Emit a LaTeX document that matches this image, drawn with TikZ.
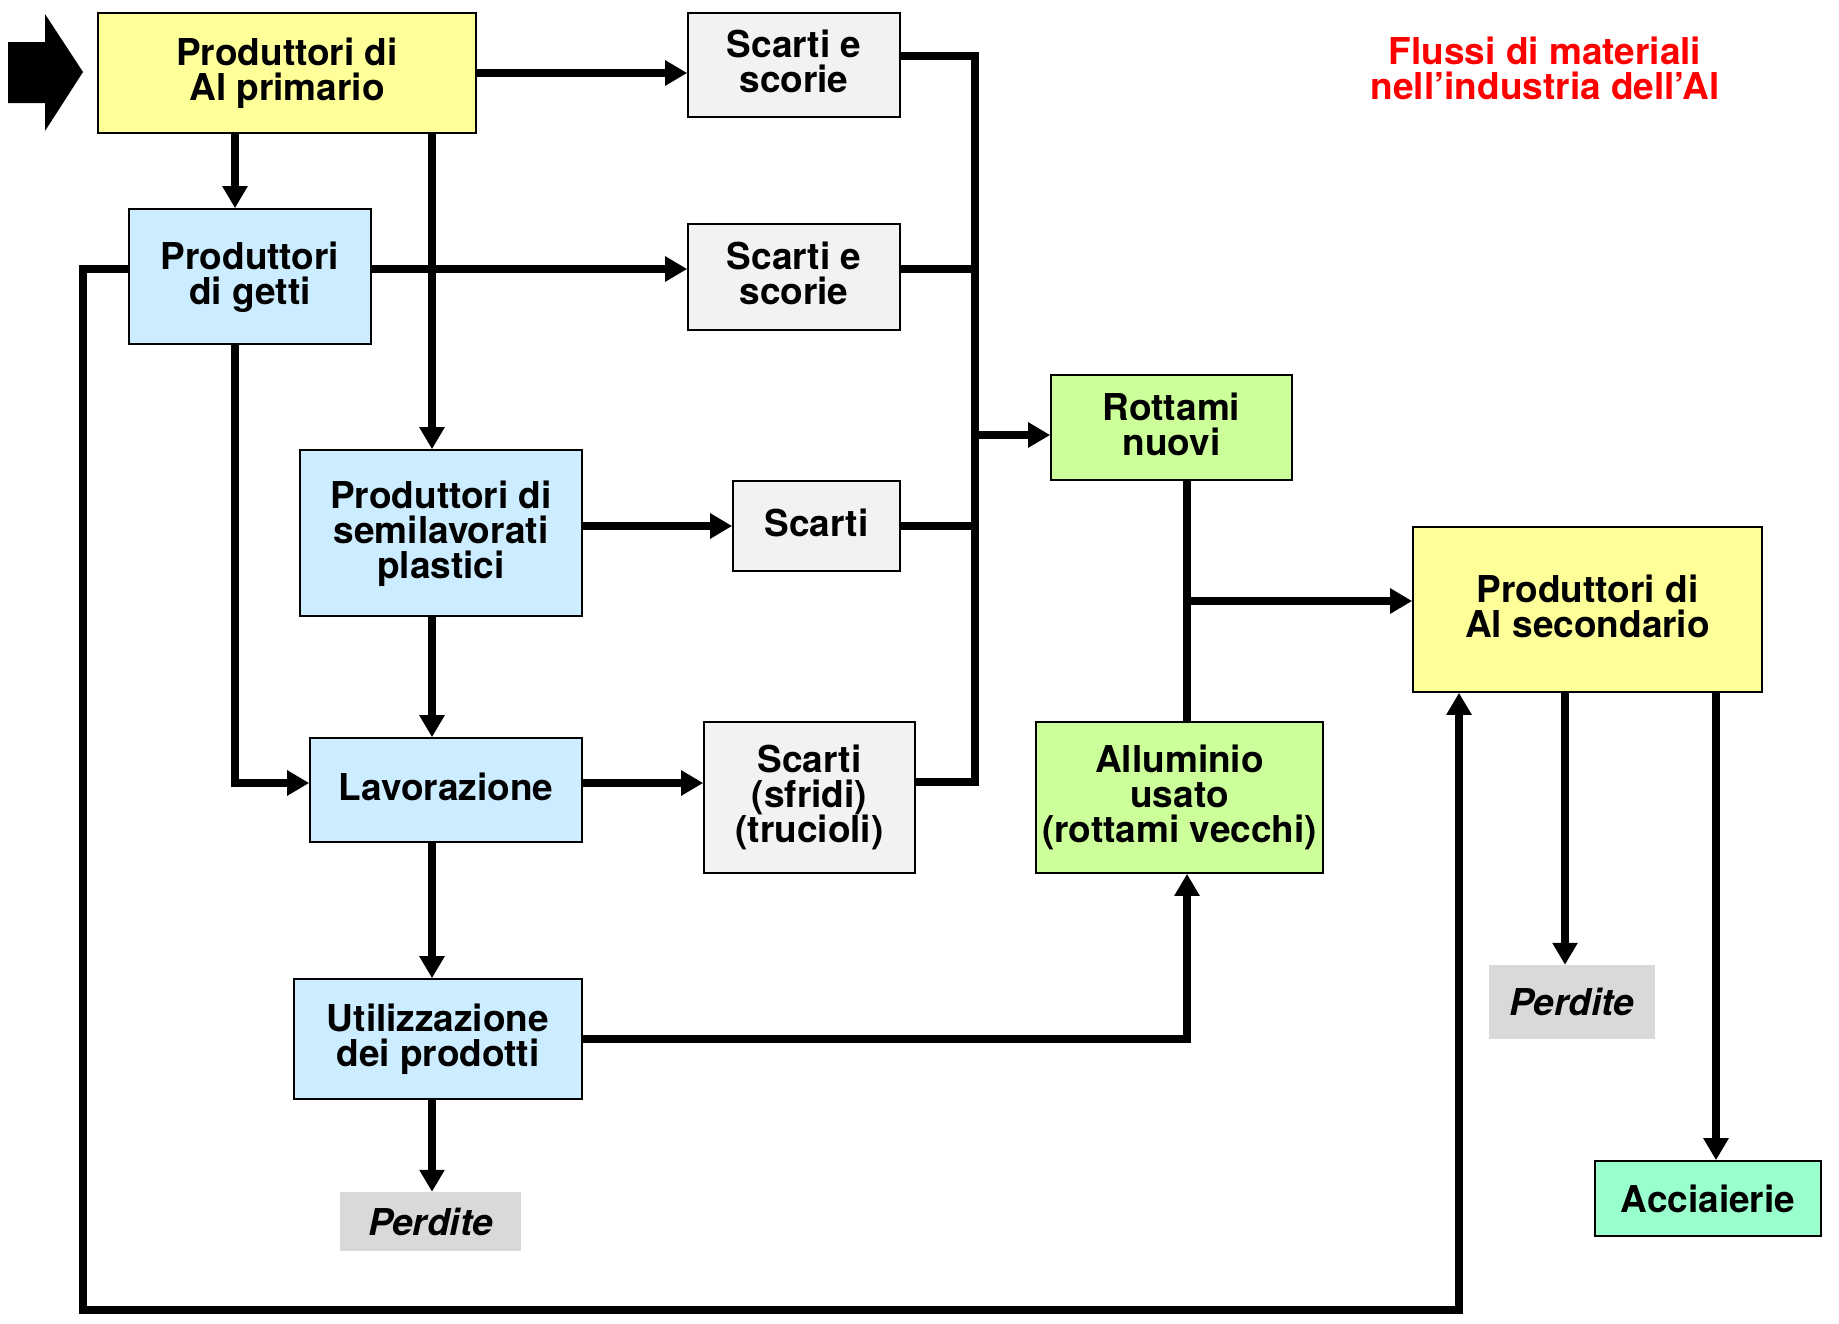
\documentclass[tikz,border=0pt]{standalone}
\usepackage{fontspec}
\setmainfont{TeX Gyre Heros}
\usetikzlibrary{arrows.meta}
\definecolor{cYellow}{HTML}{FFFF99}
\definecolor{cBlue}{HTML}{CCECFF}
\definecolor{cGrey}{HTML}{F2F2F2}
\definecolor{cGreen}{HTML}{CCFF99}
\definecolor{cAqua}{HTML}{99FFCC}
\definecolor{cLoss}{HTML}{D9D9D9}
\definecolor{cTitle}{HTML}{FF0000}
\begin{document}
\begin{tikzpicture}[x=1pt,y=-1pt,
  lbl/.style={font=\fontsize{37}{35}\selectfont\bfseries, align=center, text=black},
  box/.style={lbl, draw=black, line width=1.6pt, inner sep=2pt, text depth=7.5pt},
  sz/.style 2 args={minimum width=#1, minimum height=#2},
  loss/.style={font=\fontsize{37}{35}\selectfont\bfseries\itshape, fill=cLoss, inner sep=0pt},
  wire/.style={line width=7.5pt, line join=miter},
  flow/.style={wire, -{Triangle[width=24pt,length=22pt]}}]
\useasboundingbox (0,0) rectangle (1839,1323);

% input arrow
\fill[black] (8,42) -- (45,42) -- (45,14) -- (83,72) -- (45,131) -- (45,103) -- (8,103) -- cycle;

% title
\node[lbl, text=cTitle] (title) at (1545,68) {Flussi di materiali\\nell’industria dell’Al};

% process boxes
\node[box, fill=cYellow, sz={378}{120}] (primario) at (287,73) {Produttori di\\Al primario};
\node[box, fill=cGrey, sz={212}{104}] (scarti1) at (794,65) {Scarti e\\scorie};
\node[box, fill=cBlue, sz={242}{135}] (getti) at (250,276.5) {Produttori\\di getti};
\node[box, fill=cGrey, sz={212}{106}] (scarti2) at (794,277) {Scarti e\\scorie};
\node[box, fill=cGreen, sz={241}{105}] (rottami) at (1171.5,427.5) {Rottami\\nuovi};
\node[box, fill=cBlue, sz={282}{166}] (semilav) at (441,533) {Produttori di\\semilavorati\\plastici};
\node[box, fill=cGrey, sz={167}{90}] (scarti3) at (816.5,526) {Scarti};
\node[box, fill=cBlue, sz={272}{104}] (lavoraz) at (446,790) {Lavorazione};
\node[box, fill=cGrey, sz={211}{151}] (scarti4) at (809.5,797.5) {Scarti\\(sfridi)\\(trucioli)};
\node[box, fill=cGreen, sz={287}{151}] (alluminio) at (1179.5,797.5) {Alluminio\\usato\\(rottami vecchi)};
\node[box, fill=cYellow, sz={349}{165}] (alsec) at (1587.5,609.5) {Produttori di\\Al secondario};
\node[box, fill=cBlue, sz={288}{120}] (utiliz) at (438,1039) {Utilizzazione\\dei prodotti};
\node[loss, sz={181}{59}] (perdite1) at (430.5,1221.5) {Perdite};
\node[loss, sz={166}{74}] (perdite2) at (1572,1002) {Perdite};
\node[box, fill=cAqua, sz={226}{75}, text depth=0pt] (acciaierie) at (1708,1198.5) {Acciaierie};

% helper points on the box sides
\coordinate (g1) at ([xshift=-15pt]getti.north);
\coordinate (g2) at ([xshift=-15pt]getti.south);
\coordinate (gE) at ([yshift=7.5pt]getti.east);
\coordinate (gW) at ([yshift=7.5pt]getti.west);
\coordinate (s1) at ([xshift=-9pt]semilav.north);
\coordinate (lW) at ([yshift=7pt]lavoraz.west);
\coordinate (lE) at ([yshift=7pt]lavoraz.east);
\coordinate (au) at ([xshift=7.5pt]alluminio.south);
\coordinate (aw) at ([yshift=8.5pt]alsec.west);
\coordinate (asIn) at ([xshift=-128.5pt]alsec.south);
\coordinate (p2) at ([xshift=-7pt]perdite2.north);
\coordinate (ac) at ([xshift=8pt]acciaierie.north);
\coordinate (rw) at ([yshift=-7.5pt]rottami.west);
\coordinate (busT) at (975,56);
\coordinate (busB) at (975,782);
\coordinate (loopSW) at (83,1310);

% primary producers
\draw[flow] (primario.east) -- (primario.east -| scarti1.west);
\draw[flow] (primario.south -| g1) -- (g1);
\draw[flow] (primario.south -| s1) -- (s1);

% foundries
\draw[flow] (gE) -- (gE -| scarti2.west);
\draw[flow] (g2) |- (lW);
\draw[flow] (gW) -| (loopSW) -| (asIn);

% semi-finished products
\draw[flow] (scarti3.west -| semilav.east) -- (scarti3.west);
\draw[flow] (s1 |- semilav.south) -- (s1 |- lavoraz.north);

% machining and use
\draw[flow] (lE) -- (lE -| scarti4.west);
\draw[flow] (s1 |- lavoraz.south) -- (s1 |- utiliz.north);
\draw[flow] (s1 |- utiliz.south) -- (s1 |- perdite1.north);
\draw[flow] (utiliz.east) -| (au);

% scrap collector
\draw[wire] ([yshift=9pt]scarti1.east) -| (busB) -- ([yshift=15.5pt]scarti4.east);
\draw[wire] ([yshift=8pt]scarti2.east) -- ([yshift=8pt]scarti2.east -| busT);
\draw[wire] (scarti3.east) -- (scarti3.east -| busT);
\draw[flow] (rw -| busT) -- (rw);

% scrap to secondary producers
\draw[wire] (au |- rottami.south) -- (au |- alluminio.north);
\draw[flow] (aw -| au) -- (aw);

% secondary producers outputs
\draw[flow] (p2 |- alsec.south) -- (p2);
\draw[flow] (ac |- alsec.south) -- (ac);
\end{tikzpicture}
\end{document}
